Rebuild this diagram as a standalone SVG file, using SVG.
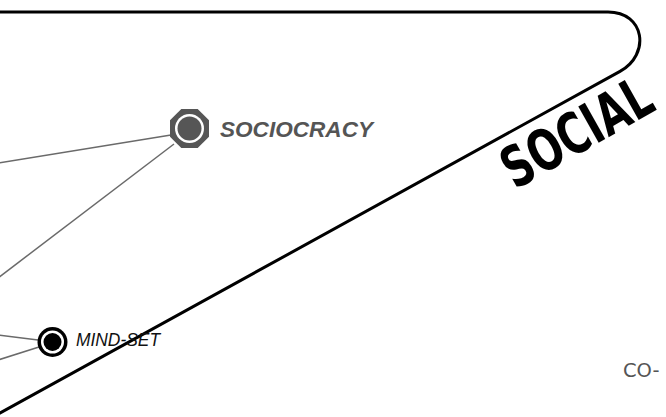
<svg xmlns="http://www.w3.org/2000/svg" width="666" height="417" viewBox="0 0 666 417">
<style>
.edge{stroke:#6a6a6a;stroke-width:1.5;fill:none}
.frame{stroke:#000;stroke-width:3;fill:none;stroke-linejoin:round}
.lbl{font-family:"Liberation Sans",Arial,sans-serif}
</style>
<rect width="666" height="417" fill="#fff"/>
<g id="frame">
<path class="frame" d="M-5,12 H608 C645,12 650.7,54.5 620,71.4 L-5,415.8"/>
<text transform="translate(515,190) rotate(-29.5)" font-family="'DejaVu Sans Condensed','DejaVu Sans',sans-serif" font-stretch="condensed" font-weight="bold" font-size="57" textLength="164" lengthAdjust="spacingAndGlyphs" fill="#000">SOCIAL</text>
</g>
<g id="connectors">
<line class="edge" x1="-2" y1="163" x2="171" y2="135"/>
<line class="edge" x1="-2" y1="278" x2="174" y2="144"/>
<line class="edge" x1="-2" y1="335" x2="38" y2="340"/>
<line class="edge" x1="-2" y1="360" x2="39" y2="347"/>
</g>
<g id="sociocracy">
<polygon points="197.7,109 209,120.3 209,136.7 197.7,148 181.3,148 170,136.7 170,120.3 181.3,109" fill="#565656"/>
<circle cx="189.5" cy="128.5" r="14.5" fill="#fff"/>
<circle cx="189.5" cy="128.5" r="12" fill="#565656"/>
<text class="lbl" x="220" y="137" font-size="22.5" font-weight="bold" font-style="italic" fill="#555" textLength="153" lengthAdjust="spacingAndGlyphs">SOCIOCRACY</text>
</g>
<g id="mind-set">
<circle cx="52.5" cy="342" r="15" fill="#000"/>
<circle cx="52.5" cy="342" r="11.5" fill="#fff"/>
<circle cx="52.5" cy="342" r="9" fill="#000"/>
<text class="lbl" x="76" y="346" font-size="17.5" font-style="italic" fill="#111" textLength="84" lengthAdjust="spacingAndGlyphs">MIND-SET</text>
</g>
<g id="co">
<text x="623" y="377" font-family="'DejaVu Sans',sans-serif" font-size="19.5" fill="#555">CO-</text>
</g>
</svg>
